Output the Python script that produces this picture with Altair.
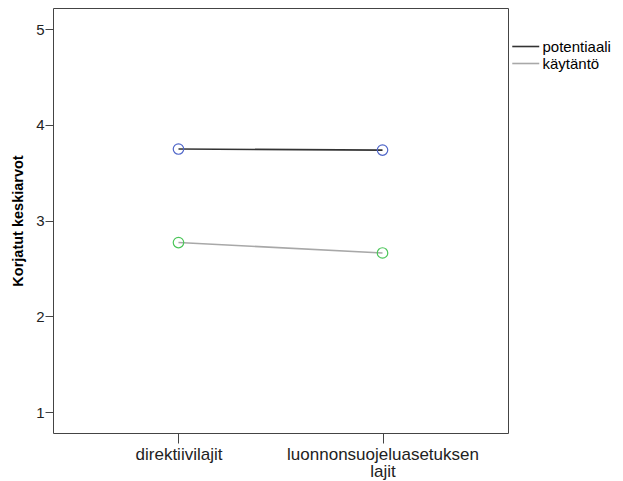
import altair as alt
import pandas as pd

categories = ["direktiivilajit", "luonnonsuojeluasetuksen\nlajit"]
series = ["potentiaali", "käytäntö"]
potentiaali = [3.748, 3.737]
kaytanto = [2.772, 2.663]
y_ticks = [1, 2, 3, 4, 5]

line_colors = ["#333333", "#a8a8a8"]
point_colors = ["#4f66c9", "#4cc65a"]

rows = []
for s, vals in zip(series, [potentiaali, kaytanto]):
    for c, v in zip(categories, vals):
        rows.append({"cat": c, "series": s, "value": v})
df = pd.DataFrame(rows)

FONT = "Liberation Sans"

x_enc = alt.X(
    "cat:N",
    sort=categories,
    scale=alt.Scale(type="point", padding=0.615),
    axis=alt.Axis(
        title=None,
        labelAngle=0,
        labelExpr="split(datum.label, '\\n')",
        labelLimit=0,
        tickSize=10,
        labelPadding=3,
        labelFontSize=17,
        labelLineHeight=17,
        labelColor="#222222",
        tickColor="#444444",
        domain=False,
        grid=False,
        labelFont=FONT,
    ),
)
y_enc = alt.Y(
    "value:Q",
    scale=alt.Scale(domain=[0.784, 5.22], nice=False, zero=False),
    axis=alt.Axis(
        title="Korjatut keskiarvot",
        values=y_ticks,
        tickSize=8,
        labelPadding=1,
        labelFontSize=15,
        labelColor="#222222",
        tickColor="#444444",
        domain=False,
        grid=False,
        titleFontSize=14.5,
        titleFontWeight="bold",
        titleColor="#000000",
        titlePadding=10,
        labelFont=FONT,
        titleFont=FONT,
    ),
)

lines = alt.Chart(df).mark_line(strokeWidth=1.6).encode(
    x=x_enc,
    y=y_enc,
    color=alt.Color(
        "series:N",
        sort=series,
        scale=alt.Scale(domain=series, range=line_colors),
        legend=alt.Legend(
            title=None,
            orient="none",
            legendX=464.75,
            legendY=30.5,
            symbolType="M-2,0H2",
            symbolSize=182,
            symbolStrokeWidth=1.6,
            labelFontSize=15,
            labelFont=FONT,
            labelColor="#000000",
            labelOffset=8.75,
            rowPadding=1,
            padding=0,
        ),
    ),
    detail="series:N",
)

points = alt.Chart(df).mark_point(filled=False, size=110, strokeWidth=1.2, opacity=1).encode(
    x=x_enc,
    y=y_enc,
    stroke=alt.Stroke(
        "series:N",
        scale=alt.Scale(domain=series, range=point_colors),
        legend=None,
    ),
)

chart = (
    alt.layer(lines, points)
    .properties(
        width=455,
        height=425,
        autosize=alt.AutoSizeParams(type="none"),
        padding={"left": 45, "top": 0, "right": 105, "bottom": 50},
    )
    .configure(background="white")
    .configure_view(stroke="#444444", strokeWidth=1)
)

chart.save("out.html", embed_options={"renderer": "svg", "actions": False})
